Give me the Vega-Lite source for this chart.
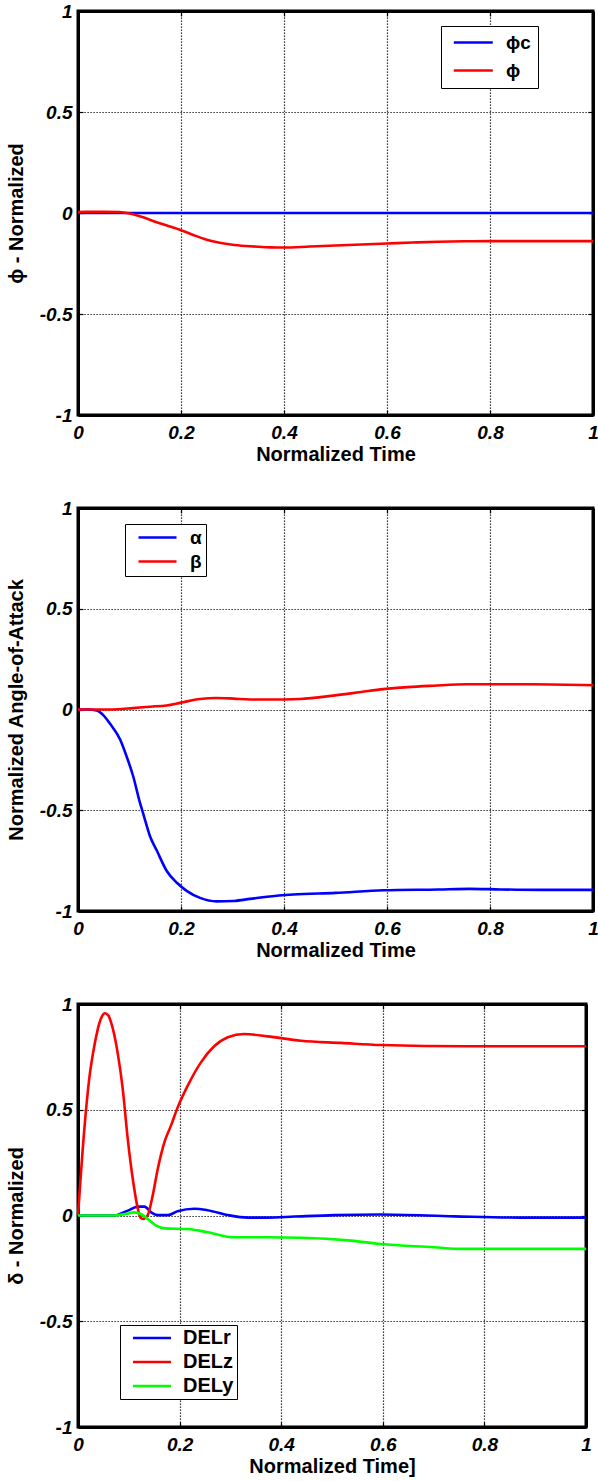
{
  "$schema": "https://vega.github.io/schema/vega-lite/v6.json",
  "background": "white",
  "padding": {"left": 4, "top": 0, "right": 0, "bottom": 0},
  "bounds": "flush",
  "spacing": 93,
  "resolve": {"scale": {"color": "independent"}, "legend": {"color": "independent"}},
  "config": {
    "view": {"stroke": "black", "strokeWidth": 3},
    "axis": {
      "domain": true, "domainColor": "black", "domainWidth": 3,
      "grid": true, "gridColor": "black", "gridDash": [1.2, 1.8], "gridOpacity": 1, "gridWidth": 1.2,
      "ticks": true, "tickSize": -5, "tickColor": "black", "tickWidth": 1.2,
      "labelFont": "Liberation Sans", "labelFontSize": 19, "labelFontWeight": "bold", "labelFontStyle": "italic", "labelColor": "black",
      "titleFont": "Liberation Sans", "titleFontSize": 20, "titleFontWeight": "bold", "titleColor": "black",
      "labelFlush": false, "labelOverlap": false
    },
    "axisX": {"labelPadding": 13, "titleY": 29, "titleBaseline": "top"},
    "axisY": {"labelPadding": 11, "titleX": -52},
    "legend": {
      "labelFont": "Liberation Sans", "labelFontWeight": "bold", "labelColor": "black",
      "strokeColor": "black", "fillColor": "white", "symbolSize": 100, "symbolStrokeWidth": 2.5
    },
    "line": {"strokeWidth": 2.6, "interpolate": "monotone"}
  },
  "datasets": {
    "p1": [
      {"t": 0, "v": 0, "s": "ϕc"}, {"t": 1, "v": 0, "s": "ϕc"},
      {"t": 0, "v": 0.005, "s": "ϕ"}, {"t": 0.05, "v": 0.006, "s": "ϕ"}, {"t": 0.08, "v": 0.005, "s": "ϕ"},
      {"t": 0.1, "v": -0.002, "s": "ϕ"}, {"t": 0.125, "v": -0.02, "s": "ϕ"}, {"t": 0.15, "v": -0.043, "s": "ϕ"},
      {"t": 0.175, "v": -0.064, "s": "ϕ"}, {"t": 0.2, "v": -0.085, "s": "ϕ"}, {"t": 0.225, "v": -0.11, "s": "ϕ"},
      {"t": 0.25, "v": -0.132, "s": "ϕ"}, {"t": 0.275, "v": -0.147, "s": "ϕ"}, {"t": 0.3, "v": -0.157, "s": "ϕ"},
      {"t": 0.325, "v": -0.163, "s": "ϕ"}, {"t": 0.35, "v": -0.167, "s": "ϕ"}, {"t": 0.375, "v": -0.17, "s": "ϕ"},
      {"t": 0.4, "v": -0.171, "s": "ϕ"}, {"t": 0.45, "v": -0.166, "s": "ϕ"}, {"t": 0.5, "v": -0.161, "s": "ϕ"},
      {"t": 0.55, "v": -0.156, "s": "ϕ"}, {"t": 0.6, "v": -0.151, "s": "ϕ"}, {"t": 0.65, "v": -0.146, "s": "ϕ"},
      {"t": 0.7, "v": -0.142, "s": "ϕ"}, {"t": 0.75, "v": -0.14, "s": "ϕ"}, {"t": 0.8, "v": -0.139, "s": "ϕ"},
      {"t": 0.9, "v": -0.139, "s": "ϕ"}, {"t": 1, "v": -0.139, "s": "ϕ"}
    ],
    "p2": [
      {"t": 0, "v": 0, "s": "α"}, {"t": 0.02, "v": 0, "s": "α"}, {"t": 0.036, "v": -0.005, "s": "α"},
      {"t": 0.05, "v": -0.03, "s": "α"}, {"t": 0.062, "v": -0.07, "s": "α"}, {"t": 0.082, "v": -0.15, "s": "α"},
      {"t": 0.094, "v": -0.23, "s": "α"}, {"t": 0.107, "v": -0.33, "s": "α"}, {"t": 0.12, "v": -0.46, "s": "α"},
      {"t": 0.127, "v": -0.52, "s": "α"}, {"t": 0.14, "v": -0.63, "s": "α"}, {"t": 0.153, "v": -0.7, "s": "α"},
      {"t": 0.172, "v": -0.8, "s": "α"}, {"t": 0.192, "v": -0.86, "s": "α"}, {"t": 0.211, "v": -0.9, "s": "α"},
      {"t": 0.237, "v": -0.935, "s": "α"}, {"t": 0.269, "v": -0.952, "s": "α"}, {"t": 0.302, "v": -0.95, "s": "α"},
      {"t": 0.334, "v": -0.94, "s": "α"}, {"t": 0.367, "v": -0.929, "s": "α"}, {"t": 0.418, "v": -0.918, "s": "α"},
      {"t": 0.5, "v": -0.91, "s": "α"}, {"t": 0.593, "v": -0.897, "s": "α"}, {"t": 0.7, "v": -0.893, "s": "α"},
      {"t": 0.76, "v": -0.89, "s": "α"}, {"t": 0.82, "v": -0.893, "s": "α"}, {"t": 0.9, "v": -0.895, "s": "α"},
      {"t": 1, "v": -0.895, "s": "α"},
      {"t": 0, "v": 0, "s": "β"}, {"t": 0.062, "v": 0, "s": "β"}, {"t": 0.107, "v": 0.007, "s": "β"},
      {"t": 0.14, "v": 0.014, "s": "β"}, {"t": 0.172, "v": 0.02, "s": "β"}, {"t": 0.2, "v": 0.034, "s": "β"},
      {"t": 0.237, "v": 0.052, "s": "β"}, {"t": 0.269, "v": 0.057, "s": "β"}, {"t": 0.302, "v": 0.054, "s": "β"},
      {"t": 0.334, "v": 0.05, "s": "β"}, {"t": 0.4, "v": 0.05, "s": "β"}, {"t": 0.431, "v": 0.052, "s": "β"},
      {"t": 0.496, "v": 0.069, "s": "β"}, {"t": 0.55, "v": 0.087, "s": "β"}, {"t": 0.593, "v": 0.101, "s": "β"},
      {"t": 0.64, "v": 0.111, "s": "β"}, {"t": 0.69, "v": 0.118, "s": "β"}, {"t": 0.754, "v": 0.125, "s": "β"},
      {"t": 0.884, "v": 0.125, "s": "β"}, {"t": 1, "v": 0.12, "s": "β"}
    ],
    "p3": [
      {"t": 0, "v": 0, "s": "DELr"}, {"t": 0.072, "v": 0, "s": "DELr"}, {"t": 0.085, "v": 0.01, "s": "DELr"},
      {"t": 0.098, "v": 0.023, "s": "DELr"}, {"t": 0.118, "v": 0.042, "s": "DELr"}, {"t": 0.131, "v": 0.042, "s": "DELr"},
      {"t": 0.144, "v": 0.015, "s": "DELr"}, {"t": 0.157, "v": 0.002, "s": "DELr"}, {"t": 0.177, "v": 0.002, "s": "DELr"},
      {"t": 0.196, "v": 0.02, "s": "DELr"}, {"t": 0.229, "v": 0.032, "s": "DELr"}, {"t": 0.255, "v": 0.025, "s": "DELr"},
      {"t": 0.295, "v": 0.002, "s": "DELr"}, {"t": 0.334, "v": -0.01, "s": "DELr"}, {"t": 0.373, "v": -0.01, "s": "DELr"},
      {"t": 0.426, "v": -0.005, "s": "DELr"}, {"t": 0.505, "v": 0.002, "s": "DELr"}, {"t": 0.596, "v": 0.005, "s": "DELr"},
      {"t": 0.741, "v": -0.004, "s": "DELr"}, {"t": 0.872, "v": -0.01, "s": "DELr"}, {"t": 1, "v": -0.01, "s": "DELr"},
      {"t": 0, "v": 0, "s": "DELz"}, {"t": 0.0125, "v": 0.41, "s": "DELz"}, {"t": 0.022, "v": 0.645, "s": "DELz"},
      {"t": 0.032, "v": 0.8, "s": "DELz"}, {"t": 0.045, "v": 0.93, "s": "DELz"}, {"t": 0.053, "v": 0.956, "s": "DELz"},
      {"t": 0.06, "v": 0.945, "s": "DELz"}, {"t": 0.065, "v": 0.914, "s": "DELz"}, {"t": 0.078, "v": 0.77, "s": "DELz"},
      {"t": 0.088, "v": 0.6, "s": "DELz"}, {"t": 0.098, "v": 0.36, "s": "DELz"}, {"t": 0.108, "v": 0.17, "s": "DELz"},
      {"t": 0.118, "v": 0.03, "s": "DELz"}, {"t": 0.123, "v": -0.01, "s": "DELz"}, {"t": 0.128, "v": -0.016, "s": "DELz"},
      {"t": 0.137, "v": 0, "s": "DELz"}, {"t": 0.147, "v": 0.094, "s": "DELz"}, {"t": 0.157, "v": 0.22, "s": "DELz"},
      {"t": 0.17, "v": 0.346, "s": "DELz"}, {"t": 0.183, "v": 0.425, "s": "DELz"}, {"t": 0.196, "v": 0.51, "s": "DELz"},
      {"t": 0.216, "v": 0.614, "s": "DELz"}, {"t": 0.242, "v": 0.724, "s": "DELz"}, {"t": 0.268, "v": 0.8, "s": "DELz"},
      {"t": 0.295, "v": 0.843, "s": "DELz"}, {"t": 0.327, "v": 0.858, "s": "DELz"}, {"t": 0.373, "v": 0.847, "s": "DELz"},
      {"t": 0.439, "v": 0.826, "s": "DELz"}, {"t": 0.518, "v": 0.816, "s": "DELz"}, {"t": 0.596, "v": 0.806, "s": "DELz"},
      {"t": 0.767, "v": 0.8, "s": "DELz"}, {"t": 1, "v": 0.8, "s": "DELz"},
      {"t": 0, "v": 0, "s": "DELy"}, {"t": 0.072, "v": 0, "s": "DELy"}, {"t": 0.095, "v": 0.008, "s": "DELy"},
      {"t": 0.111, "v": 0.015, "s": "DELy"}, {"t": 0.124, "v": 0.007, "s": "DELy"}, {"t": 0.137, "v": -0.016, "s": "DELy"},
      {"t": 0.154, "v": -0.048, "s": "DELy"}, {"t": 0.17, "v": -0.061, "s": "DELy"}, {"t": 0.216, "v": -0.064, "s": "DELy"},
      {"t": 0.255, "v": -0.079, "s": "DELy"}, {"t": 0.308, "v": -0.103, "s": "DELy"}, {"t": 0.373, "v": -0.103, "s": "DELy"},
      {"t": 0.439, "v": -0.105, "s": "DELy"}, {"t": 0.538, "v": -0.119, "s": "DELy"}, {"t": 0.596, "v": -0.135, "s": "DELy"},
      {"t": 0.701, "v": -0.15, "s": "DELy"}, {"t": 0.754, "v": -0.158, "s": "DELy"}, {"t": 1, "v": -0.158, "s": "DELy"}
    ]
  },
  "vconcat": [
    {
      "width": 515, "height": 404,
      "data": {"name": "p1"},
      "view": {"stroke": "black", "strokeWidth": 3},
      "resolve": {"axis": {"x": "independent", "y": "independent"}},
      "layer": [
        {
          "mark": {"type": "line"},
          "encoding": {
            "x": {"field": "t", "type": "quantitative", "scale": {"domain": [0, 1], "nice": false},
                  "axis": {"orient": "bottom", "values": [0, 0.2, 0.4, 0.6, 0.8, 1], "labelExpr": "'' + datum.value", "title": "Normalized Time"}},
            "y": {"field": "v", "type": "quantitative", "scale": {"domain": [-1, 1], "nice": false},
                  "axis": {"orient": "left", "values": [-1, -0.5, 0, 0.5, 1], "labelExpr": "'' + datum.value", "title": "ϕ - Normalized"}},
            "color": {"field": "s", "type": "nominal", "scale": {"domain": ["ϕc", "ϕ"], "range": ["#0000ff", "#ff0000"]},
                      "legend": {"orient": "none", "legendX": 363, "legendY": 15, "title": null, "symbolType": "M-0.74,0H7.06",
                                 "labelFontSize": 19, "labelOffset": 39, "padding": 7, "rowPadding": 8, "labelExpr": "datum.label + '  '"}}
          }
        },
        {
          "mark": {"type": "line", "opacity": 0},
          "encoding": {
            "x": {"field": "t", "type": "quantitative",
                  "axis": {"orient": "top", "values": [0.2, 0.4, 0.6, 0.8], "labels": false, "grid": false, "title": null}},
            "y": {"field": "v", "type": "quantitative",
                  "axis": {"orient": "right", "values": [-0.5, 0, 0.5], "labels": false, "grid": false, "title": null}}
          }
        }
      ]
    },
    {
      "width": 515, "height": 403,
      "data": {"name": "p2"},
      "view": {"stroke": "black", "strokeWidth": 3},
      "resolve": {"axis": {"x": "independent", "y": "independent"}},
      "layer": [
        {
          "mark": {"type": "line"},
          "encoding": {
            "x": {"field": "t", "type": "quantitative", "scale": {"domain": [0, 1], "nice": false},
                  "axis": {"orient": "bottom", "values": [0, 0.2, 0.4, 0.6, 0.8, 1], "labelExpr": "'' + datum.value", "title": "Normalized Time"}},
            "y": {"field": "v", "type": "quantitative", "scale": {"domain": [-1, 1], "nice": false},
                  "axis": {"orient": "left", "values": [-1, -0.5, 0, 0.5, 1], "labelExpr": "'' + datum.value", "title": "Normalized Angle-of-Attack"}},
            "color": {"field": "s", "type": "nominal", "scale": {"domain": ["α", "β"], "range": ["#0000ff", "#ff0000"]},
                      "legend": {"orient": "none", "legendX": 47, "legendY": 16, "title": null, "symbolType": "M0,0H7.6",
                                 "labelFontSize": 19, "labelOffset": 42, "padding": 4, "rowPadding": 4, "labelExpr": "datum.label + '   '"}}
          }
        },
        {
          "mark": {"type": "line", "opacity": 0},
          "encoding": {
            "x": {"field": "t", "type": "quantitative",
                  "axis": {"orient": "top", "values": [0.2, 0.4, 0.6, 0.8], "labels": false, "grid": false, "title": null}},
            "y": {"field": "v", "type": "quantitative",
                  "axis": {"orient": "right", "values": [-0.5, 0, 0.5], "labels": false, "grid": false, "title": null}}
          }
        }
      ]
    },
    {
      "width": 508, "height": 423,
      "data": {"name": "p3"},
      "view": {"stroke": "black", "strokeWidth": 3},
      "resolve": {"axis": {"x": "independent", "y": "independent"}},
      "layer": [
        {
          "mark": {"type": "line"},
          "encoding": {
            "x": {"field": "t", "type": "quantitative", "scale": {"domain": [0, 1], "nice": false},
                  "axis": {"orient": "bottom", "values": [0, 0.2, 0.4, 0.6, 0.8, 1], "labelExpr": "'' + datum.value", "title": "Normalized Time]"}},
            "y": {"field": "v", "type": "quantitative", "scale": {"domain": [-1, 1], "nice": false},
                  "axis": {"orient": "left", "values": [-1, -0.5, 0, 0.5, 1], "labelExpr": "'' + datum.value", "title": "δ - Normalized"}},
            "color": {"field": "s", "type": "nominal", "scale": {"domain": ["DELr", "DELz", "DELy"], "range": ["#0000ff", "#ff0000", "#00ff00"]},
                      "legend": {"orient": "none", "legendX": 42, "legendY": 321, "title": null, "symbolType": "M0,0H7.6",
                                 "labelFontSize": 20, "labelOffset": 40, "padding": 3, "rowPadding": 4, "labelExpr": "datum.label + '   '"}}
          }
        },
        {
          "mark": {"type": "line", "opacity": 0},
          "encoding": {
            "x": {"field": "t", "type": "quantitative",
                  "axis": {"orient": "top", "values": [0.2, 0.4, 0.6, 0.8], "labels": false, "grid": false, "title": null}},
            "y": {"field": "v", "type": "quantitative",
                  "axis": {"orient": "right", "values": [-0.5, 0, 0.5], "labels": false, "grid": false, "title": null}}
          }
        }
      ]
    }
  ]
}
